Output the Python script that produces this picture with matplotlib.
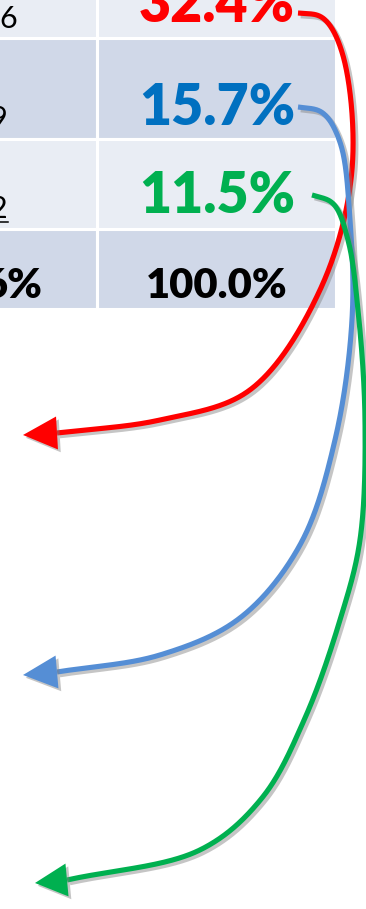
import numpy as np
import matplotlib
matplotlib.use("Agg")
import matplotlib.pyplot as plt
from matplotlib.patches import Rectangle, Polygon
import matplotlib.patheffects as pe

# ---- data ----
left_labels = ["6", "9", "2", "6%"]
right_labels = ["32.4%", "15.7%", "11.5%", "100.0%"]
right_colors = ["#FF0000", "#0070C0", "#00B050", "#000000"]

# ---- layout ----
W, H = 366, 909
fig = plt.figure(figsize=(W / 100, H / 100), dpi=100)
ax = fig.add_axes([0, 0, 1, 1])
ax.set_xlim(0, W)
ax.set_ylim(H, 0)
ax.axis("off")

row_edges = [-20, 38, 139, 229, 309]
col_edges = [-20, 97, 336]
row_fill = ["#E9EDF4", "#D0D8E8", "#E9EDF4", "#D0D8E8"]
for r in range(4):
    for c in range(2):
        ax.add_patch(Rectangle((col_edges[c], row_edges[r]),
                               col_edges[c + 1] - col_edges[c],
                               row_edges[r + 1] - row_edges[r],
                               facecolor=row_fill[r], edgecolor="white",
                               lw=2.2, zorder=1))

FONT = "Lato"
right_base = [22, 125, 213, 298]
right_size = [40, 40, 40, 30]
for lab, col, yb, fs in zip(right_labels, right_colors, right_base, right_size):
    ax.text(217, yb, lab, color=col, fontsize=fs, fontweight="heavy",
            family=FONT, ha="center", va="baseline", zorder=3)

left_base = [28, 128, 218, 298]
left_right = [17, 7, 7, 43]
left_size = [22, 22, 22, 30]
left_weight = ["normal", "normal", "normal", "heavy"]
for lab, yb, xr, fs, fw in zip(left_labels, left_base, left_right, left_size, left_weight):
    ax.text(xr, yb, lab, color="black", fontsize=fs, fontweight=fw,
            family=FONT, ha="right", va="baseline", zorder=3)
ax.plot([-5, 8], [222, 222], color="black", lw=1.1, zorder=3)


def catmull(pts, n=40, alpha=0.5):
    p = np.asarray(pts, float)
    p = np.vstack([p[0] * 2 - p[1], p, p[-1] * 2 - p[-2]])
    out = []
    for i in range(1, len(p) - 2):
        P0, P1, P2, P3 = p[i - 1], p[i], p[i + 1], p[i + 2]
        t0 = 0.0
        t1 = t0 + np.linalg.norm(P1 - P0) ** alpha
        t2 = t1 + np.linalg.norm(P2 - P1) ** alpha
        t3 = t2 + np.linalg.norm(P3 - P2) ** alpha
        t = np.linspace(t1, t2, n, endpoint=False)[:, None]
        A1 = (t1 - t) / (t1 - t0) * P0 + (t - t0) / (t1 - t0) * P1
        A2 = (t2 - t) / (t2 - t1) * P1 + (t - t1) / (t2 - t1) * P2
        A3 = (t3 - t) / (t3 - t2) * P2 + (t - t2) / (t3 - t2) * P3
        B1 = (t2 - t) / (t2 - t0) * A1 + (t - t0) / (t2 - t0) * A2
        B2 = (t3 - t) / (t3 - t1) * A2 + (t - t1) / (t3 - t1) * A3
        C = (t2 - t) / (t2 - t1) * B1 + (t - t1) / (t2 - t1) * B2
        out.append(C)
    out.append(p[-2][None, :])
    return np.vstack(out)


def smooth_curve(pts, sigma=4.0):
    c = catmull(pts)
    seg = np.linalg.norm(np.diff(c, axis=0), axis=1)
    s = np.concatenate([[0], np.cumsum(seg)])
    ss = np.append(np.arange(0, s[-1], 1.0), s[-1])
    x = np.interp(ss, s, c[:, 0])
    y = np.interp(ss, s, c[:, 1])
    k = int(3 * sigma)
    xp = np.concatenate([2 * x[0] - x[k:0:-1], x, 2 * x[-1] - x[-2:-k - 2:-1]])
    yp = np.concatenate([2 * y[0] - y[k:0:-1], y, 2 * y[-1] - y[-2:-k - 2:-1]])
    g = np.exp(-0.5 * (np.arange(-k, k + 1) / sigma) ** 2)
    g /= g.sum()
    return np.column_stack([np.convolve(xp, g, mode="valid"),
                            np.convolve(yp, g, mode="valid")])


red_path = [(298, 13), (322, 17), (342, 52), (352, 170), (320, 290),
            (250, 390), (160, 420), (57, 433)]
blue_path = [(298, 107), (322, 112), (340, 142), (350, 220), (352, 320),
             (335, 440), (300, 545), (240, 618), (160, 655), (57, 672)]
green_path = [(312, 195), (333, 203), (348, 240), (358, 310), (365, 420),
              (360, 540), (340, 620), (305, 718), (262, 798), (200, 850), (67, 880)]
tips = [(23, 435), (23, 675), (35, 883)]
line_colors = ["#FF0000", "#558ED5", "#00B050"]

shadow = [pe.SimpleLineShadow(offset=(2, -2), shadow_color="#808080", alpha=0.45),
          pe.Normal()]
pshadow = [pe.SimplePatchShadow(offset=(2, -2), shadow_rgbFace="#808080", alpha=0.45),
           pe.Normal()]

for path, tip, col in zip([red_path, blue_path, green_path], tips, line_colors):
    xy = smooth_curve(path)
    ax.plot(xy[:, 0], xy[:, 1], color=col, lw=3.7, solid_capstyle="butt",
            path_effects=shadow, zorder=4)
    base = np.array(path[-1], float)
    t = np.array(tip, float)
    d = t - base
    d /= np.linalg.norm(d)
    perp = np.array([-d[1], d[0]])
    poly = [t, base + perp * 16.5, base - perp * 16.5]
    ax.add_patch(Polygon(poly, closed=True, facecolor=col, edgecolor="none",
                         path_effects=pshadow, zorder=5))

fig.savefig("out.png", dpi=100)
